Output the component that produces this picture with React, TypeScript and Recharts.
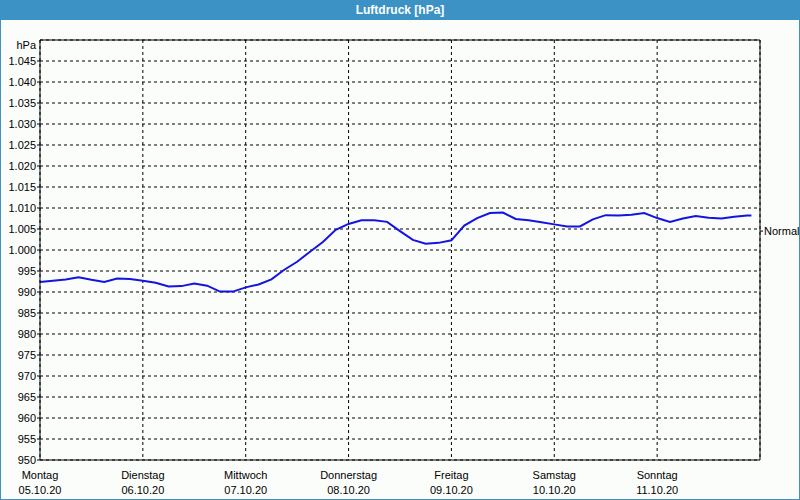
import { CartesianGrid, Line, LineChart, ReferenceLine, XAxis, YAxis } from 'recharts';

// Stunden seit Montag 00:00, alle 3 h
const hours = [
  0, 3, 6, 9, 12, 15, 18, 21, 24, 27, 30, 33, 36, 39, 42, 45, 48, 51, 54, 57, 60, 63, 66, 69,
  72, 75, 78, 81, 84, 87, 90, 93, 96, 99, 102, 105, 108, 111, 114, 117, 120, 123, 126, 129,
  132, 135, 138, 141, 144, 147, 150, 153, 156, 159, 162, 165, 166,
];
const pressure = [
  992.4, 992.7, 993.0, 993.5, 992.9, 992.4, 993.2, 993.1, 992.7, 992.2, 991.3, 991.4, 992.0,
  991.5, 990.1, 990.1, 991.1, 991.8, 993.0, 995.3, 997.2, 999.6, 1001.9, 1004.8, 1006.2,
  1007.1, 1007.1, 1006.7, 1004.5, 1002.4, 1001.5, 1001.7, 1002.3, 1005.8, 1007.6, 1008.8,
  1008.9, 1007.4, 1007.1, 1006.6, 1006.1, 1005.6, 1005.6, 1007.3, 1008.3, 1008.2, 1008.4,
  1008.8, 1007.6, 1006.7, 1007.5, 1008.1, 1007.7, 1007.5, 1007.9, 1008.2, 1008.2,
];
const dayNames = ['Montag', 'Dienstag', 'Mittwoch', 'Donnerstag', 'Freitag', 'Samstag', 'Sonntag'];
const dayDates = ['05.10.20', '06.10.20', '07.10.20', '08.10.20', '09.10.20', '10.10.20', '11.10.20'];
const dayTicks = [0, 24, 48, 72, 96, 120, 144, 168];
const pressureTicks = [
  950, 955, 960, 965, 970, 975, 980, 985, 990, 995, 1000, 1005, 1010, 1015, 1020, 1025, 1030,
  1035, 1040, 1045, 1050,
];
const normalPressure = 1004.5;

const data = hours.map((h, i) => ({ h, p: pressure[i] }));

const FONT = '"Liberation Sans", Arial, sans-serif';
const BLUE = '#3c92c4';

function fmtHpa(v: number) {
  if (v < 1000) return String(v);
  return `${Math.floor(v / 1000)}.${String(v % 1000).padStart(3, '0')}`;
}

function PressureTick({ x, y, payload }: any) {
  const v = payload.value;
  if (v === 1050) {
    return (
      <text x={x - 1} y={y + 9} textAnchor="end" fontSize={11} fontFamily={FONT} fill="#000">
        hPa
      </text>
    );
  }
  return (
    <g>
      <line x1={x} x2={x + 3} y1={y} y2={y} stroke="#000" />
      <text x={x - 1} y={y + 4} textAnchor="end" fontSize={11} fontFamily={FONT} fill="#000">
        {fmtHpa(v)}
      </text>
    </g>
  );
}

function DayTick({ x, y, payload }: any) {
  const i = dayTicks.indexOf(payload.value);
  if (i < 0 || i >= dayNames.length) return null;
  return (
    <g fontSize={11} fontFamily={FONT} fill="#000">
      <text x={x} y={y + 19} textAnchor="middle">
        {dayNames[i]}
      </text>
      <text x={x} y={y + 34} textAnchor="middle">
        {dayDates[i]}
      </text>
    </g>
  );
}

// kleiner Strich rechts am Rahmen + "Normal"
function NormalLabel({ viewBox }: any) {
  const right = viewBox.x + viewBox.width;
  const y = viewBox.y;
  return (
    <g>
      <line x1={right} x2={right + 3} y1={y} y2={y} stroke="#000" />
      <text x={right + 4} y={y + 4} fontSize={11} fontFamily={FONT} fill="#000">
        Normal
      </text>
    </g>
  );
}

export default function App() {
  return (
    <div style={{ position: 'absolute', left: 0, top: 0, width: 800, height: 500, background: '#fbfdfb' }}>
      <LineChart
        width={800}
        height={500}
        data={data}
        margin={{ top: 40, right: 0, bottom: 0, left: 0 }}
        style={{ position: 'absolute', left: 0, top: 0 }}
      >
        <CartesianGrid stroke="#000" strokeDasharray="3 3" />
        <XAxis
          dataKey="h"
          type="number"
          domain={[0, 168]}
          ticks={dayTicks}
          interval={0}
          height={40}
          stroke="#000"
          tickLine={false}
          tickSize={0}
          tickMargin={0}
          tick={<DayTick />}
        />
        <YAxis
          domain={[950, 1050]}
          ticks={pressureTicks}
          interval={0}
          width={40}
          stroke="#000"
          tickLine={false}
          tickSize={3}
          tickMargin={0}
          tick={<PressureTick />}
        />
        <YAxis
          yAxisId="right"
          orientation="right"
          domain={[950, 1050]}
          width={40}
          stroke="#000"
          tick={false}
          tickLine={false}
        />
        <ReferenceLine y={1050} stroke="#000" />
        <ReferenceLine y={normalPressure} stroke="none" label={<NormalLabel />} />
        <Line
          type="linear"
          dataKey="p"
          stroke="#1414e0"
          strokeWidth={2}
          dot={false}
          isAnimationActive={false}
        />
      </LineChart>
      <div
        style={{
          position: 'absolute',
          left: 0,
          top: 0,
          width: 800,
          height: 20,
          background: BLUE,
          color: '#fff',
          fontFamily: FONT,
          fontWeight: 'bold',
          fontSize: 12,
          lineHeight: '20px',
          textAlign: 'center',
        }}
      >
        Luftdruck [hPa]
      </div>
      <div
        style={{
          position: 'absolute',
          left: 0,
          top: 0,
          width: 800,
          height: 500,
          boxSizing: 'border-box',
          border: `1px solid ${BLUE}`,
          pointerEvents: 'none',
        }}
      />
    </div>
  );
}
